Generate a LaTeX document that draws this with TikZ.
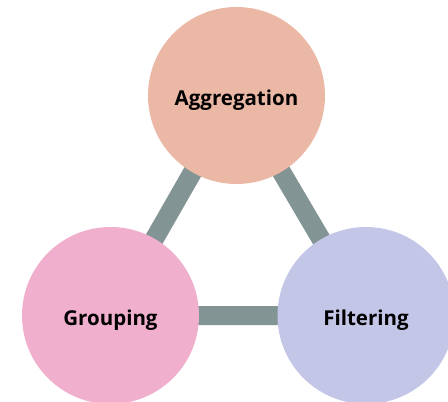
\documentclass[tikz,border=0pt]{standalone}
\usepackage{fontspec}
\setmainfont{Open Sans}
\begin{document}
\begin{tikzpicture}[x=1pt,y=-1pt,
  topic/.style={circle, minimum size=177pt, inner sep=0pt,
    text height=20pt, text depth=0pt,
    font=\bfseries\fontsize{20.5}{24}\selectfont},
  link/.style={draw=linkgray, line width=19pt}]
\definecolor{linkgray}{HTML}{829494}
\definecolor{aggfill}{HTML}{EBB8A6}
\definecolor{grpfill}{HTML}{F0AFCD}
\definecolor{filfill}{HTML}{C4C6E7}
\useasboundingbox (0,0) rectangle (448,402);
\coordinate (ca) at (236.5,95.5);
\coordinate (cg) at (110.5,315.5);
\coordinate (cf) at (366,315.5);
\draw[link] (ca) -- (cg) -- (cf) -- cycle;
\node[topic, fill=aggfill] (agg) at (ca) {Aggregation};
\node[topic, fill=grpfill] (grp) at (cg) {Grouping};
\node[topic, fill=filfill] (fil) at (cf) {Filtering};
\end{tikzpicture}
\end{document}
